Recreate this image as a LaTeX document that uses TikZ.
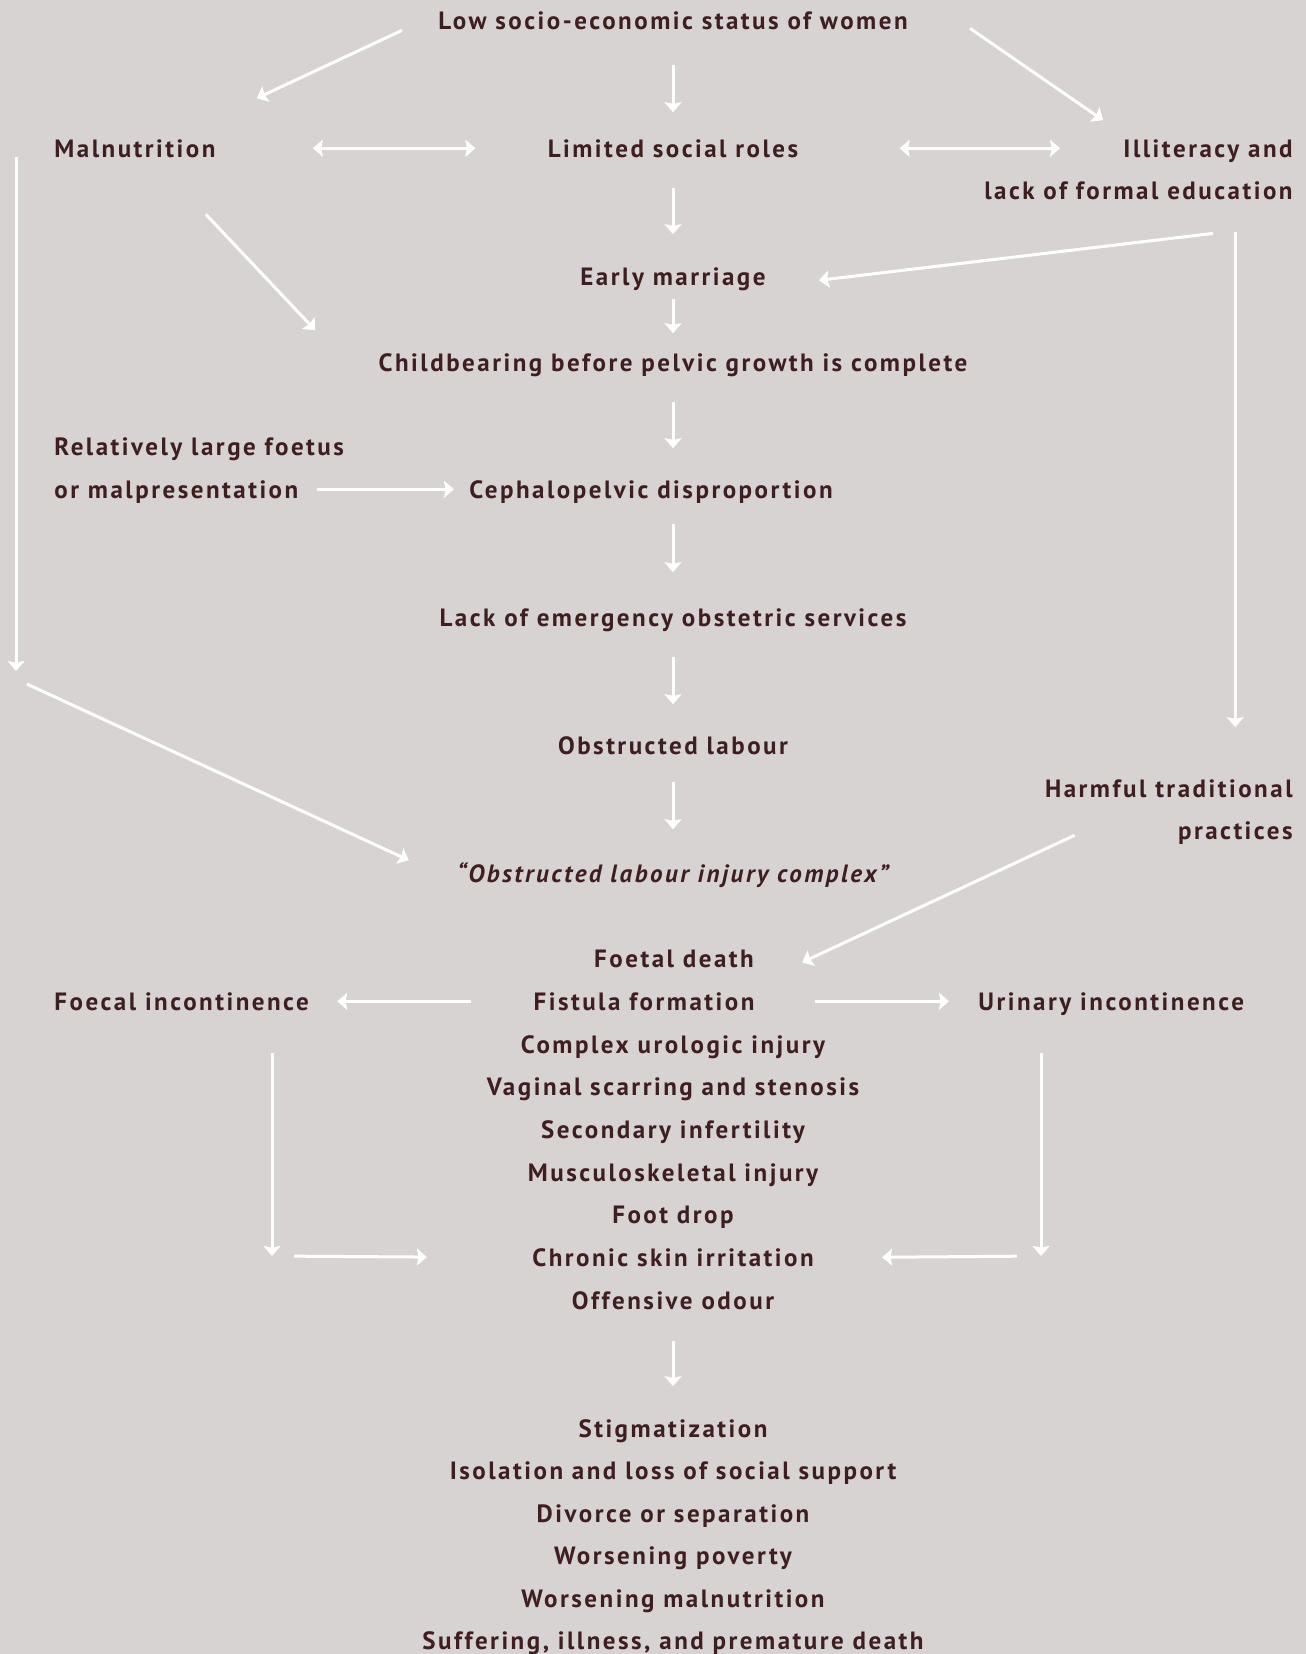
\documentclass[tikz,border=0pt]{standalone}
\usepackage{fontspec}
\setmainfont{PT Sans}[LetterSpace=10]
\usetikzlibrary{calc,arrows.meta}
\definecolor{ink}{RGB}{62,30,33}
\definecolor{paper}{RGB}{215,211,210}
\newcommand{\lblfont}{\fontsize{12.5}{15}\selectfont\bfseries}
\tikzset{
	lbl/.style={inner sep=0pt, text height=8.7pt, text depth=0pt, text=ink, font=\lblfont},
	arr/.style={draw=white, line width=1.5pt, -{Stealth[length=5pt,width=8.5pt,inset=0.8pt]}},
	arrs/.style={draw=white, line width=1.5pt, {Stealth[length=5pt,width=8.5pt,inset=0.8pt]}-{Stealth[length=5pt,width=8.5pt,inset=0.8pt]}}
}

\begin{document}
\begin{tikzpicture}[x=0.5pt,y=-0.5pt]
	\fill[paper] (0,0) rectangle (1306,1654);
	\useasboundingbox (0,0) rectangle (1306,1654);

	\node[lbl, anchor=base] (low) at (673,29) {Low socio-economic status of women};
	\node[lbl, anchor=base west] (mal) at (54,157) {Malnutrition};
	\node[lbl, anchor=base] (lim) at (673,157) {Limited social roles};
	\node[lbl, anchor=base east] (ill) at (1293,157) {Illiteracy and};
	\node[lbl, anchor=base east] (edu) at (1293,199) {lack of formal education};
	\node[lbl, anchor=base] (early) at (673,285) {Early marriage};
	\node[lbl, anchor=base] (child) at (673,371) {Childbearing before pelvic growth is complete};
	\node[lbl, anchor=base west] (big) at (54,455) {Relatively large foetus};
	\node[lbl, anchor=base west] (malp) at (54,498) {or malpresentation};
	\node[lbl, anchor=base] (ceph) at (651,498) {Cephalopelvic disproportion};
	\node[lbl, anchor=base] (lack) at (673,626) {Lack of emergency obstetric services};
	\node[lbl, anchor=base] (obst) at (673,754) {Obstructed labour};
	\node[lbl, anchor=base east] (harm) at (1293,797) {Harmful traditional};
	\node[lbl, anchor=base east] (prac) at (1293,839) {practices};
	\node[lbl, anchor=base, font=\lblfont\itshape] (cx) at (673,882) {“Obstructed labour injury complex”};
	\node[lbl, anchor=base] (foetal) at (674,967) {Foetal death};
	\node[lbl, anchor=base west] (foecal) at (54,1010) {Foecal incontinence};
	\node[lbl, anchor=base] (fist) at (644,1010) {Fistula formation};
	\node[lbl, anchor=base west] (urin) at (978,1010) {Urinary incontinence};
	\foreach \t/\n [count=\i from 0] in {Complex urologic injury/uro, Vaginal scarring and stenosis/vag,
		Secondary infertility/inf, Musculoskeletal injury/musc, Foot drop/foot,
		Chronic skin irritation/chronic, Offensive odour/odour}
		\node[lbl, anchor=base] (\n) at (673,{1053+42.7*\i}) {\t};
	\foreach \t/\n [count=\i from 0] in {Stigmatization/stig, Isolation and loss of social support/iso,
		Divorce or separation/div, Worsening poverty/pov, Worsening malnutrition/wmal,
		{Suffering, illness, and premature death}/suff}
		\node[lbl, anchor=base] (\n) at (673,{1437+42.5*\i}) {\t};

	\coordinate (lcorner) at (16,679);
	\coordinate (fbend) at (272,1256);
	\coordinate (ubend) at (1041,1256);

	\draw[arr] ($(low.south west)+(-36,1)$) -- ($(mal.north east)+(41,-41)$);
	\draw[arr, shorten <=18pt, shorten >=13.5pt] (low.south) -- (lim.north);
	\draw[arr] ($(low.south east)+(62,-1)$) -- ($(ill.north west)+(-20,-19)$);
	\draw[arrs, shorten <=48.5pt, shorten >=36pt] (mal.east) -- (lim.west);
	\draw[arrs, shorten <=50.5pt, shorten >=31.5pt] (lim.east) -- (ill.west);
	\draw[arr, shorten <=15.5pt, shorten >=16.5pt] (lim.south) -- (early.north);
	\draw[arr] ($(edu.south east)+(-80,34)$) -- ($(early.east)+(53,4)$);
	\draw[arr, shorten <=7pt, shorten >=10pt] (early.south) -- (child.north);
	\draw[arr] ($(mal.south)+(71,57)$) -- ($(child.north west)+(-63,-23)$);
	\draw[arr, shorten >=4pt] (lcorner |- mal.south) -- (lcorner);
	\draw[arr, shorten <=6pt, shorten >=26.5pt] (lcorner) -- (cx.south west);
	\draw[arr, shorten <=15.5pt, shorten >=16pt] (child.south) -- (child.south |- ceph.north);
	\draw[arr, shorten <=9pt, shorten >=7.5pt] (malp.east) -- (ceph.west);
	\draw[arr, shorten <=13pt, shorten >=18pt] (lack.north |- ceph.south) -- (lack.north);
	\draw[arr, shorten <=15.5pt, shorten >=16pt] (lack.south) -- (obst.north);
	\draw[arr, shorten <=14pt, shorten >=17.5pt] (obst.south) -- (cx.north);
	\draw[arr, shorten <=16.5pt, shorten >=26pt] (prac.north |- edu.south) -- (prac.north |- harm.north);
	\draw[arr] ($(prac.west)+(-103,5)$) -- ($(foetal.east)+(48,4)$);
	\draw[arr, shorten <=31pt, shorten >=14pt] (fist.west) -- (foecal.east);
	\draw[arr, shorten <=30pt, shorten >=14.5pt] (fist.east) -- (urin.west);
	\draw[arr, shorten <=21.5pt] (fbend |- foecal.south) -- (fbend);
	\draw[arr, shorten <=11pt, shorten >=52.5pt] (fbend) -- (chronic.west);
	\draw[arr, shorten <=21.5pt] (ubend |- urin.south) -- (ubend);
	\draw[arr, shorten <=12pt, shorten >=34pt] (ubend) -- (chronic.east);
	\draw[arr, shorten <=15.5pt, shorten >=16.5pt] (odour.south) -- (stig.north);
\end{tikzpicture}
\end{document}
